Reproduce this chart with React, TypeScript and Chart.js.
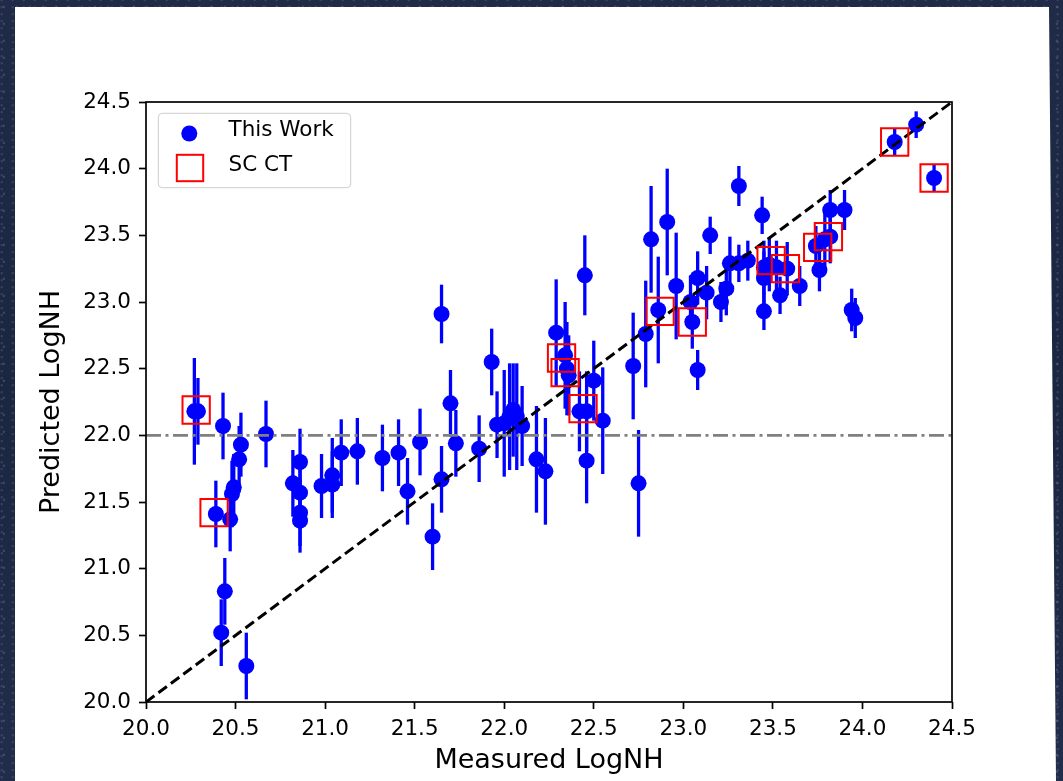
import React, { useEffect, useRef } from "react";
import { Chart, registerables } from "chart.js";

Chart.register(...registerables);

// ---- data ----
const measuredLogNH = [
  20.27, 20.29, 20.43, 20.53, 20.52, 20.49, 20.48, 20.47, 20.39, 20.44,
  20.42, 20.56, 20.67, 20.82, 20.86, 20.86, 20.86, 20.86, 20.98, 21.04,
  21.04, 21.09, 21.18, 21.32, 21.41, 21.46, 21.53, 21.60, 21.65, 21.65,
  21.70, 21.73, 21.86, 21.93, 21.96, 22.00, 22.03, 22.05, 22.07, 22.10,
  22.18, 22.23, 22.29, 22.34, 22.35, 22.36, 22.42, 22.45, 22.46, 22.46,
  22.50, 22.55, 22.72, 22.75, 22.79, 22.82, 22.91, 22.86, 22.96, 23.04,
  23.05, 23.08, 23.08, 23.13, 23.15, 23.21, 23.24, 23.26, 23.31, 23.36,
  23.31, 23.44, 23.45, 23.45, 23.48, 23.52, 23.58, 23.45, 23.54, 23.65,
  23.74, 23.76, 23.79, 23.82, 23.82, 23.90, 23.94, 23.96, 24.18, 24.30,
  24.40,
];
const predictedLogNH = [
  22.18, 22.18, 22.07, 21.93, 21.82, 21.61, 21.56, 21.37, 21.41, 20.83,
  20.52, 20.27, 22.01, 21.64, 21.80, 21.57, 21.42, 21.36, 21.62, 21.70,
  21.63, 21.87, 21.88, 21.83, 21.87, 21.58, 21.95, 21.24, 21.67, 22.91,
  22.24, 21.94, 21.90, 22.55, 22.08, 22.09, 22.14, 22.19, 22.14, 22.07,
  21.82, 21.73, 22.77, 22.60, 22.50, 22.45, 22.18, 23.20, 22.18, 21.81,
  22.41, 22.11, 22.52, 21.64, 22.76, 23.47, 23.60, 22.94, 23.12, 23.00,
  22.85, 22.49, 23.18, 23.07, 23.50, 23.00, 23.10, 23.29, 23.29, 23.31,
  23.87, 23.65, 22.93, 23.26, 23.28, 23.26, 23.25, 23.18, 23.05, 23.12,
  23.42, 23.24, 23.47, 23.49, 23.69, 23.69, 22.94, 22.88, 24.20, 24.33,
  23.93,
];
const predictedErr = [
  0.40, 0.25, 0.25, 0.24, 0.25, 0.25, 0.25, 0.24, 0.25, 0.25,
  0.25, 0.25, 0.25, 0.25, 0.25, 0.25, 0.25, 0.24, 0.24, 0.28,
  0.25, 0.25, 0.25, 0.25, 0.25, 0.25, 0.25, 0.25, 0.25, 0.22,
  0.25, 0.25, 0.25, 0.25, 0.25, 0.40, 0.40, 0.35, 0.40, 0.30,
  0.40, 0.40, 0.40, 0.40, 0.35, 0.30, 0.30, 0.30, 0.30, 0.32,
  0.30, 0.40, 0.40, 0.40, 0.40, 0.40, 0.40, 0.40, 0.40, 0.20,
  0.20, 0.15, 0.20, 0.20, 0.14, 0.15, 0.20, 0.20, 0.14, 0.15,
  0.15, 0.14, 0.14, 0.20, 0.20, 0.20, 0.20, 0.20, 0.14, 0.15,
  0.15, 0.16, 0.20, 0.20, 0.15, 0.15, 0.16, 0.15, 0.10, 0.10,
  0.10,
];
const scctMeasured = [20.28, 20.38, 22.32, 22.34, 22.44, 22.87, 23.05, 23.49, 23.57, 23.75, 23.81, 24.18, 24.40];
const scctPredicted = [22.19, 21.42, 22.58, 22.47, 22.20, 22.93, 22.85, 23.31, 23.25, 23.41, 23.49, 24.20, 23.93];
const axisLimits = [20.0, 24.5];
const thresholdLogNH = 22.0;
const legendLabels = ["This Work", "SC CT"];
const xTitle = "Measured LogNH";
const yTitle = "Predicted LogNH";

const FONT = "'DejaVu Sans', sans-serif";

const errorBarPlugin = {
  id: "errorBars",
  beforeDatasetsDraw(chart: any) {
    const xs = chart.scales.x;
    const ys = chart.scales.y;
    const ctx = chart.ctx;
    ctx.save();
    ctx.strokeStyle = "#0000ff";
    ctx.lineWidth = 3.3;
    ctx.lineCap = "butt";
    for (let i = 0; i < measuredLogNH.length; i++) {
      const px = xs.getPixelForValue(measuredLogNH[i]);
      ctx.beginPath();
      ctx.moveTo(px, ys.getPixelForValue(predictedLogNH[i] - predictedErr[i]));
      ctx.lineTo(px, ys.getPixelForValue(predictedLogNH[i] + predictedErr[i]));
      ctx.stroke();
    }
    ctx.restore();
  },
};

const framePlugin = {
  id: "frameAndLegend",
  afterDraw(chart: any) {
    const ctx = chart.ctx;
    const a = chart.chartArea;
    ctx.save();
    // axes frame
    ctx.strokeStyle = "#000";
    ctx.lineWidth = 1.7;
    ctx.strokeRect(a.left, a.top, a.right - a.left, a.bottom - a.top);
    // legend
    const lx = a.left + 12.3;
    const ly = a.top + 11.3;
    const lw = 192.4;
    const lh = 74.4;
    ctx.beginPath();
    (ctx as any).roundRect(lx, ly, lw, lh, 4);
    ctx.fillStyle = "rgba(255,255,255,0.8)";
    ctx.fill();
    ctx.strokeStyle = "#cccccc";
    ctx.lineWidth = 1;
    ctx.stroke();
    // markers
    ctx.beginPath();
    ctx.arc(a.left + 43.3, a.top + 31.5, 8, 0, Math.PI * 2);
    ctx.fillStyle = "#0000ff";
    ctx.fill();
    ctx.strokeStyle = "#ff0000";
    ctx.lineWidth = 2;
    ctx.strokeRect(a.left + 44 - 13.2, a.top + 66 - 13.2, 26.4, 26.4);
    // text
    ctx.fillStyle = "#000";
    ctx.font = `21.5px ${FONT}`;
    ctx.textBaseline = "middle";
    ctx.textAlign = "left";
    ctx.fillText(legendLabels[0], a.left + 82.5, a.top + 28.5);
    ctx.fillText(legendLabels[1], a.left + 82.5, a.top + 63);
    ctx.restore();
  },
};

export default function App() {
  const ref = useRef<HTMLCanvasElement | null>(null);

  useEffect(() => {
    if (!ref.current) return;
    const points = measuredLogNH.map((x, i) => ({ x, y: predictedLogNH[i] }));
    const scct = scctMeasured.map((x, i) => ({ x, y: scctPredicted[i] }));
    const oneToOne = axisLimits.map((v) => ({ x: v, y: v }));
    const hLine = axisLimits.map((v) => ({ x: v, y: thresholdLogNH }));

    const tickCommon = {
      stepSize: 0.5,
      color: "#000",
      padding: 8,
      font: { family: FONT, size: 21.5 },
      callback: (v: any) => Number(v).toFixed(1),
    };
    const gridCommon = {
      drawOnChartArea: false,
      drawTicks: true,
      tickLength: 7,
      tickColor: "#000",
      tickWidth: 1.7,
    };

    const chart = new Chart(ref.current, {
      type: "scatter",
      data: {
        datasets: [
          {
            label: legendLabels[1],
            data: scct,
            pointStyle: "rect",
            pointRadius: 19.3,
            pointBackgroundColor: "rgba(0,0,0,0)",
            pointBorderColor: "#ff0000",
            pointBorderWidth: 2,
            order: 0,
          } as any,
          {
            label: "one-to-one",
            data: oneToOne,
            showLine: true,
            borderColor: "#000",
            borderWidth: 3,
            borderDash: [10.5, 5],
            pointRadius: 0,
            order: 1,
          },
          {
            label: "threshold",
            data: hLine,
            showLine: true,
            borderColor: "#808080",
            borderWidth: 2.8,
            borderDash: [15, 4.5, 3, 4.5],
            pointRadius: 0,
            order: 2,
          },
          {
            label: legendLabels[0],
            data: points,
            pointStyle: "circle",
            pointRadius: 8,
            pointBackgroundColor: "#0000ff",
            pointBorderWidth: 0,
            order: 3,
          } as any,
        ],
      },
      options: {
        responsive: false,
        devicePixelRatio: 1,
        animation: false,
        events: [],
        layout: { padding: { left: 0, top: 102, right: 111, bottom: 0 } },
        plugins: {
          legend: { display: false },
          tooltip: { enabled: false },
        },
        scales: {
          x: {
            type: "linear",
            min: axisLimits[0],
            max: axisLimits[1],
            ticks: tickCommon as any,
            grid: gridCommon as any,
            border: { display: false },
            title: {
              display: true,
              text: xTitle,
              color: "#000",
              font: { family: FONT, size: 27 },
              padding: { top: 0, bottom: 3.5 },
            },
            afterFit: (s: any) => {
              s.height = 79;
            },
          },
          y: {
            type: "linear",
            min: axisLimits[0],
            max: axisLimits[1],
            ticks: tickCommon as any,
            grid: gridCommon as any,
            border: { display: false },
            title: {
              display: true,
              text: yTitle,
              color: "#000",
              font: { family: FONT, size: 27 },
              padding: { top: 36, bottom: 0 },
            },
            afterFit: (s: any) => {
              s.width = 146;
            },
          },
        },
      } as any,
      plugins: [errorBarPlugin, framePlugin],
    });
    return () => chart.destroy();
  }, []);

  return (
    <div
      style={{
        position: "fixed",
        left: 0,
        top: 0,
        width: 1063,
        height: 781,
        overflow: "hidden",
        background:
          "radial-gradient(circle at 30% 40%, rgba(220,230,255,0.16) 0 0.8px, transparent 1.6px) 0 0 / 13px 17px, radial-gradient(circle at 70% 60%, rgba(220,230,255,0.12) 0 0.8px, transparent 1.6px) 5px 3px / 11px 7px, linear-gradient(180deg, #1f2b47 0%, #1b2741 50%, #212d4a 100%)",
      }}
    >
      <div
        style={{
          position: "absolute",
          left: 0,
          top: 0,
          width: 1063,
          height: 781,
          background: "#ffffff",
          clipPath: "polygon(15px 7px, 1049px 7px, 1056px 781px, 15px 781px)",
        }}
      />
      <canvas
        ref={ref}
        width={1063}
        height={781}
        style={{ position: "absolute", left: 0, top: 0, width: 1063, height: 781 }}
      />
    </div>
  );
}
